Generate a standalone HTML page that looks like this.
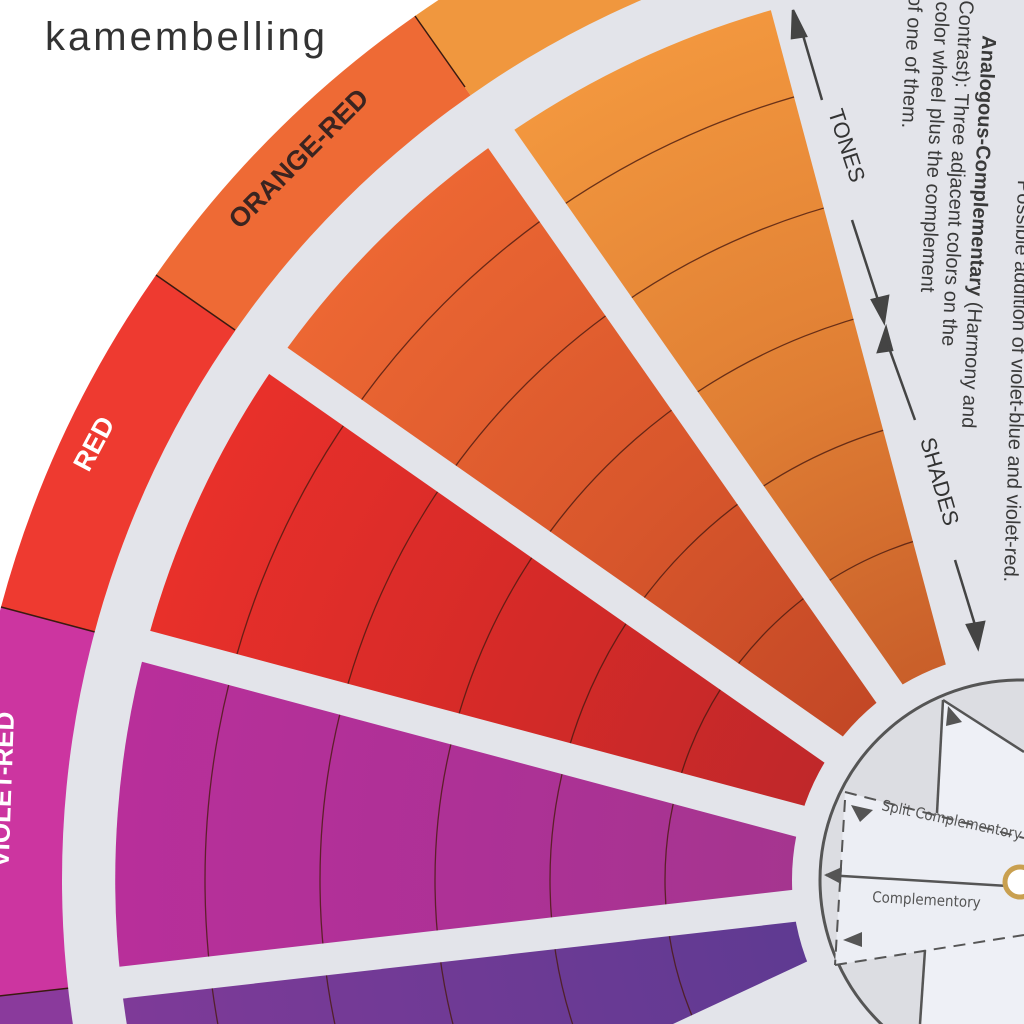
<!DOCTYPE html>
<html><head><meta charset="utf-8"><style>
html,body{margin:0;padding:0;background:#fff;overflow:hidden;width:1024px;height:1024px;}
svg{display:block;}
</style></head><body>
<svg width="1024" height="1024" viewBox="0 0 1024 1024" xmlns="http://www.w3.org/2000/svg" font-family="Liberation Sans, DejaVu Sans, sans-serif" overflow="hidden">
<defs>
<radialGradient id="gO" gradientUnits="userSpaceOnUse" cx="1020" cy="880" r="905">
<stop offset="0.25" stop-color="#c95f2a"/><stop offset="0.6" stop-color="#e07f34"/><stop offset="1" stop-color="#f2973e"/></radialGradient>
<radialGradient id="gOR" gradientUnits="userSpaceOnUse" cx="1020" cy="880" r="905">
<stop offset="0.25" stop-color="#c34826"/><stop offset="0.6" stop-color="#d9572c"/><stop offset="1" stop-color="#ec6733"/></radialGradient>
<radialGradient id="gR" gradientUnits="userSpaceOnUse" cx="1020" cy="880" r="905">
<stop offset="0.25" stop-color="#c0282a"/><stop offset="0.6" stop-color="#d42a28"/><stop offset="1" stop-color="#e8302a"/></radialGradient>
<radialGradient id="gVR" gradientUnits="userSpaceOnUse" cx="1020" cy="880" r="905">
<stop offset="0.25" stop-color="#a5358f"/><stop offset="0.6" stop-color="#ad3196"/><stop offset="1" stop-color="#b82f9a"/></radialGradient>
<radialGradient id="gV" gradientUnits="userSpaceOnUse" cx="1020" cy="880" r="905">
<stop offset="0.25" stop-color="#5f3a92"/><stop offset="1" stop-color="#7e3a98"/></radialGradient>
<clipPath id="wclip"><path d="M1020 880 L747 -139 A1055 1055 0 0 0 64 1326 Z"/></clipPath>
<clipPath id="frame"><rect x="0" y="0" width="1024" height="1024"/></clipPath>
</defs>
<g clip-path="url(#frame)">
<rect width="1024" height="1024" fill="#fff"/>
<path d="M1020 880 L1300 -300 L700 -300 Z" fill="#e3e4ea"/>
<rect x="640" y="0" width="384" height="1024" fill="#e3e4ea"/>
<path d="M1020 880 L747 -139 A1055 1055 0 0 0 415 16 Z" fill="#f0973e"/>
<path d="M1020 880 L415 16 A1055 1055 0 0 0 156 275 Z" fill="#ee6a35"/>
<path d="M1020 880 L156 275 A1055 1055 0 0 0 1 607 Z" fill="#ee3a30"/>
<path d="M1020 880 L1 607 A1055 1055 0 0 0 -28 999 Z" fill="#cc35a0"/>
<path d="M1020 880 L-28 999 A1055 1055 0 0 0 64 1326 Z" fill="#8a3a9c"/>
<g stroke="#3a1a10" stroke-width="1.5">
<line x1="415" y1="16" x2="465" y2="87"/>
<line x1="156" y1="275" x2="235" y2="330"/>
<line x1="1" y1="607" x2="95" y2="632"/>
<line x1="-28" y1="999" x2="70" y2="988"/>
</g>
<circle cx="1020" cy="880" r="958" fill="#e3e4ea"/>
<g clip-path="url(#wclip)">
<circle cx="1020" cy="880" r="905" fill="#e3e4ea"/>
<path d="M1020 880 L786 6 A905 905 0 0 0 501 139 Z" fill="url(#gO)"/>
<path d="M1020 880 L501 139 A905 905 0 0 0 278 361 Z" fill="url(#gOR)"/>
<path d="M1020 880 L278 361 A905 905 0 0 0 146 646 Z" fill="url(#gR)"/>
<path d="M1020 880 L146 646 A905 905 0 0 0 121 982 Z" fill="url(#gVR)"/>
<path d="M1020 880 L121 982 A905 905 0 0 0 200 1262 Z" fill="url(#gV)"/>
<g fill="none" stroke="#4a1a10" stroke-width="1.3" opacity="0.8">
<circle cx="1020" cy="880" r="815"/><circle cx="1020" cy="880" r="700"/>
<circle cx="1020" cy="880" r="585"/><circle cx="1020" cy="880" r="470"/>
<circle cx="1020" cy="880" r="355"/>
</g>
</g>
<g stroke="#e3e4ea" stroke-width="32" stroke-linecap="butt">
<line x1="1020" y1="880" x2="774" y2="-40"/>
<line x1="1020" y1="880" x2="474" y2="100"/>
<line x1="1020" y1="880" x2="240" y2="334"/>
<line x1="1020" y1="880" x2="100" y2="634"/>
<line x1="1020" y1="880" x2="74" y2="988"/>
<line x1="1020" y1="880" x2="157" y2="1282"/>
</g>
<circle cx="1020" cy="880" r="228" fill="#e3e4ea"/>
<circle cx="1020" cy="880" r="200" fill="#dcdde2" stroke="#555" stroke-width="3"/>
<path d="M943 700 L1024 752 L1024 838 L937 813 Z" fill="#eef0f6"/>
<path d="M845 792 L1024 838 L1024 935 L835 965 Z" fill="#eceef4"/>
<path d="M925 950 L1024 935 L1024 1024 L920 1024 Z" fill="#eef0f6"/>
<g stroke="#555" stroke-width="2.5" fill="none">
<path d="M943 700 L937 813"/>
<path d="M943 700 L1024 752"/>
<path d="M826 875 L1008 886"/>
<path d="M925 950 L920 1024"/>
</g>
<g stroke="#555" stroke-width="2" fill="none" stroke-dasharray="12 8">
<path d="M845 792 L1024 838"/>
<path d="M845 800 L835 965"/>
<path d="M835 965 L1024 935"/>
</g>
<g fill="#555">
<polygon points="948,706 962,722 946,726"/>
<polygon points="851,805 873,810 860,822"/>
<polygon points="843,940 862,932 862,947"/>
<polygon points="824,875 842,867 841,884"/>
</g>
<text x="881" y="810" font-size="15" fill="#555" transform="rotate(12 881 810)" font-family="DejaVu Sans Condensed, DejaVu Sans, sans-serif">Split Complementory</text>
<text x="872" y="902" font-size="15" fill="#555" transform="rotate(3 872 902)" font-family="DejaVu Sans Condensed, DejaVu Sans, sans-serif">Complementory</text>
<circle cx="1020" cy="882" r="15" fill="#fff" stroke="#c9a050" stroke-width="5"/>
<text x="0" y="0" font-size="27" font-weight="bold" fill="#3a2420" text-anchor="middle" transform="translate(305,165) rotate(-45)">ORANGE-RED</text>
<text x="0" y="0" font-size="27" font-weight="bold" fill="#fff" text-anchor="middle" transform="translate(102,448) rotate(-62)">RED</text>
<text x="0" y="0" font-size="26" font-weight="bold" fill="#fff" text-anchor="end" transform="translate(14,712) rotate(-88)">VIOLET-RED</text>
<text x="0" y="0" font-size="27" font-weight="bold" fill="#3a2420" text-anchor="middle" transform="translate(570,-22) rotate(-25)">ORANGE</text>
<g stroke="#444" stroke-width="2.5" fill="#444">
<line x1="800" y1="25" x2="822" y2="100"/>
<polygon points="793,10 806,36 792,38"/>
<line x1="852" y1="220" x2="878" y2="300"/>
<polygon points="872,300 888,296 884,322"/>
<polygon points="886,328 892,350 878,352"/>
<line x1="888" y1="345" x2="915" y2="420"/>
<line x1="955" y1="560" x2="975" y2="625"/>
<polygon points="967,625 984,622 978,648"/>
</g>
<text x="0" y="0" font-size="22" fill="#333" transform="translate(828,112) rotate(72)">TONES</text>
<text x="0" y="0" font-size="22" fill="#333" transform="translate(920,440) rotate(74)">SHADES</text>
<g font-size="20" fill="#3a3a3a" text-anchor="end">
<text transform="translate(1004,582) rotate(92)" x="0" y="0">Possible addition of violet-blue and violet-red.</text>
<text transform="translate(962,428) rotate(93)" x="0" y="0"><tspan font-weight="bold">Analogous-Complementary</tspan> (Harmony and</text>
<text transform="translate(942,346) rotate(93)" x="0" y="0">Contrast): Three adjacent colors on the</text>
<text transform="translate(921,292) rotate(93)" x="0" y="0">color wheel plus the complement</text>
<text transform="translate(902,128) rotate(93)" x="0" y="0">of one of them.</text>
</g>
<text x="45" y="50" font-size="40" fill="#333" textLength="280" font-family="Liberation Sans, DejaVu Sans, sans-serif">kamembelling</text>
</g>
</svg>
</body></html>
